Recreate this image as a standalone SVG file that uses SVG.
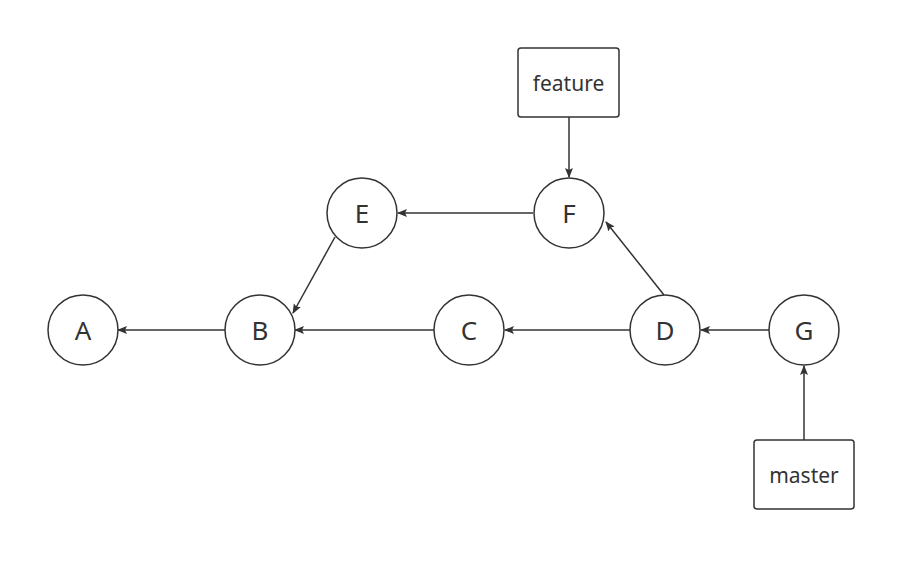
<svg xmlns="http://www.w3.org/2000/svg" width="916" height="572" viewBox="0 0 916 572">
<defs>
<marker id="ah" viewBox="0 0 10 10" refX="9" refY="5" markerWidth="10" markerHeight="10" markerUnits="userSpaceOnUse" orient="auto">
<path d="M0,1 L10,5 L0,9 L2,5 Z" fill="#333"/>
</marker>
<style>
.n{fill:#fff;stroke:#333;stroke-width:1.5}
.t{font-family:"Noto Sans","Open Sans",sans-serif;font-size:26px;fill:#333;text-anchor:middle;dominant-baseline:central}
.b{font-size:21px}
.e{stroke:#333;stroke-width:1.5;fill:none;marker-end:url(#ah)}
</style>
</defs>
<rect width="916" height="572" fill="#fff"/>
<g id="connectors">
<line class="e" x1="533" y1="213" x2="398" y2="213"/>
<line class="e" x1="335" y1="237" x2="293" y2="313"/>
<line class="e" x1="225" y1="330" x2="118" y2="330"/>
<line class="e" x1="434" y1="330" x2="295" y2="330"/>
<line class="e" x1="630" y1="330" x2="505" y2="330"/>
<line class="e" x1="769" y1="330" x2="701" y2="330"/>
<line class="e" x1="664" y1="295" x2="606" y2="222"/>
<line class="e" x1="569" y1="117" x2="569" y2="177"/>
<line class="e" x1="804" y1="440" x2="804" y2="366"/>
</g>
<g id="A"><circle class="n" cx="83" cy="330" r="35"/><text class="t" x="83" y="330">A</text></g>
<g id="B"><circle class="n" cx="260" cy="330" r="35"/><text class="t" x="260" y="330">B</text></g>
<g id="C"><circle class="n" cx="469" cy="330" r="35"/><text class="t" x="469" y="330">C</text></g>
<g id="D"><circle class="n" cx="665" cy="330" r="35"/><text class="t" x="665" y="330">D</text></g>
<g id="G"><circle class="n" cx="804" cy="330" r="35"/><text class="t" x="804" y="330">G</text></g>
<g id="E"><circle class="n" cx="362" cy="213" r="35"/><text class="t" x="362" y="213">E</text></g>
<g id="F"><circle class="n" cx="569" cy="213" r="35"/><text class="t" x="569" y="213">F</text></g>
<g id="feature"><rect class="n" x="518" y="48" width="101" height="69" rx="3"/><text class="t b" x="568.5" y="82.5">feature</text></g>
<g id="master"><rect class="n" x="754" y="440" width="100" height="69" rx="3"/><text class="t b" x="804" y="474.5">master</text></g>
</svg>
